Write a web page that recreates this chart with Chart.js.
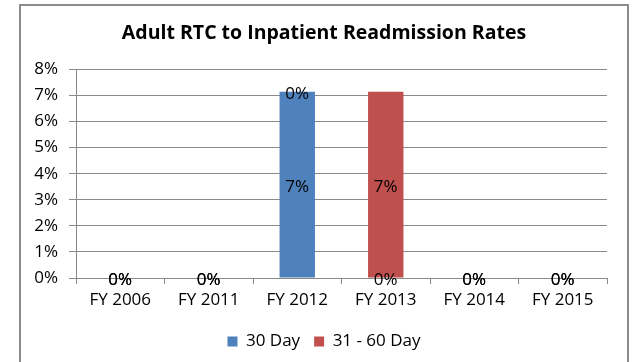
<!DOCTYPE html>
<html>
<head>
<meta charset="utf-8">
<script src="https://cdn.jsdelivr.net/npm/chart.js@4"></script>
<style>
  html, body { margin: 0; padding: 0; background: #fff; }
  #wrap { width: 633px; height: 362px; position: relative; }
</style>
</head>
<body>
<div id="wrap"><canvas id="chart" width="633" height="362"></canvas></div>
<script>
const years = ['FY 2006', 'FY 2011', 'FY 2012', 'FY 2013', 'FY 2014', 'FY 2015'];
const day30 = [0, 0, 7.14, 0, 0, 0];
const day31to60 = [0, 0, 0, 7.14, 0, 0];
const yTicks = [0, 1, 2, 3, 4, 5, 6, 7, 8];

const FONT = '"Open Sans", sans-serif';
const GRID = '#8a8a8a';
const FRAME = { left: 20, right: 628, top: 5 };

// frame around the whole chart; title and legend are centred inside it
const frame = {
  id: 'frame',
  afterLayout(chart) {
    [chart.titleBlock, chart.legend].forEach(b => {
      b.left = FRAME.left;
      b.right = FRAME.right;
    });
  },
  beforeDraw(chart) {
    const c = chart.ctx;
    c.save();
    c.fillStyle = '#fff';
    c.fillRect(0, 0, chart.width, chart.height);
    c.strokeStyle = '#8c8c8c';
    c.lineWidth = 2;
    c.strokeRect(FRAME.left, FRAME.top, FRAME.right - FRAME.left, 400);
    c.restore();
  }
};

// value labels centred on each bar segment
const barLabels = {
  id: 'barLabels',
  afterDatasetsDraw(chart) {
    const c = chart.ctx;
    c.save();
    c.font = '17px ' + FONT;
    c.fillStyle = '#000';
    c.textAlign = 'center';
    c.textBaseline = 'middle';
    chart.data.datasets.forEach((ds, i) => {
      chart.getDatasetMeta(i).data.forEach((bar, j) => {
        const y = (bar.y + bar.base) / 2;
        c.fillText(ds.data[j].toFixed(0) + '%', bar.x, y + 2);
      });
    });
    c.restore();
  }
};

new Chart(document.getElementById('chart'), {
  type: 'bar',
  data: {
    labels: years,
    datasets: [
      { label: '30 Day', data: day30, backgroundColor: '#4f81bd' },
      { label: '31 - 60 Day', data: day31to60, backgroundColor: '#c0504d' }
    ]
  },
  options: {
    responsive: false,
    animation: false,
    datasets: { bar: { categoryPercentage: 1, barPercentage: 0.4 } },
    layout: { padding: { left: 0, right: 26, top: 0, bottom: 2 } },
    plugins: {
      title: {
        display: true,
        text: 'Adult RTC to Inpatient Readmission Rates',
        color: '#000',
        font: { family: FONT, size: 19.5, weight: 'bold', lineHeight: 1.2 },
        padding: { top: 22, bottom: 24 }
      },
      legend: {
        position: 'bottom',
        labels: {
          color: '#000',
          font: { family: FONT, size: 17 },
          boxWidth: 10,
          boxHeight: 10,
          padding: 14
        }
      },
      tooltip: { enabled: false }
    },
    scales: {
      x: {
        stacked: true,
        grid: { offset: true, drawOnChartArea: false, color: GRID, tickLength: 6 },
        border: { color: GRID },
        ticks: { color: '#000', font: { family: FONT, size: 17 }, padding: 6, maxRotation: 0 },
        afterFit(scale) { scale.height = 41; }
      },
      y: {
        stacked: true,
        min: 0,
        max: 8,
        afterBuildTicks(scale) { scale.ticks = yTicks.map(v => ({ value: v })); },
        grid: { color: GRID, tickLength: 7 },
        border: { color: GRID },
        ticks: {
          color: '#000',
          font: { family: FONT, size: 17 },
          padding: 11,
          callback: v => v + '%'
        },
        afterFit(scale) { scale.width = 76; }
      }
    }
  },
  plugins: [frame, barLabels]
});
</script>
</body>
</html>
